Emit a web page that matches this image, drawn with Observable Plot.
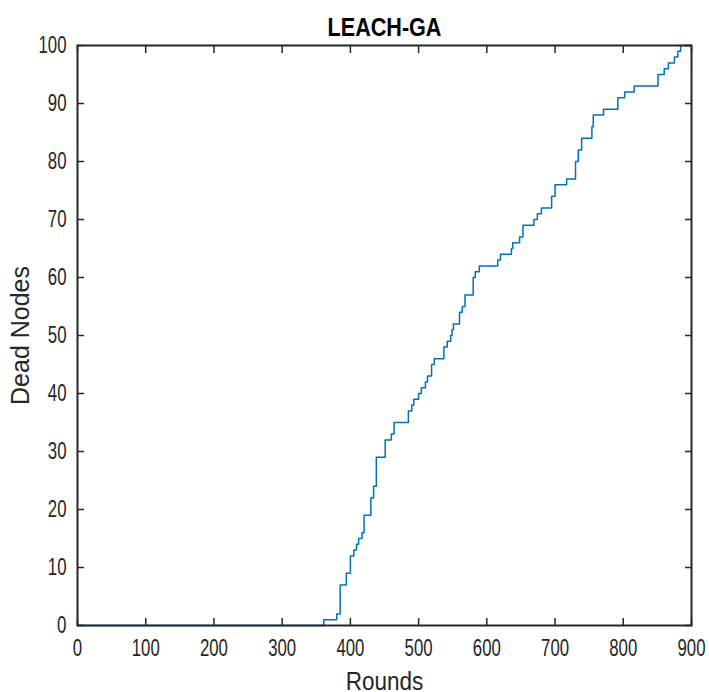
<!DOCTYPE html>
<html>
<head>
<meta charset="utf-8">
<script src="https://cdn.jsdelivr.net/npm/d3@7"></script>
<script src="https://cdn.jsdelivr.net/npm/@observablehq/plot@0.6"></script>
<style>
  html, body { margin: 0; padding: 0; background: #fff; }
  #chart svg { display: block; }
</style>
</head>
<body>
<div id="chart"></div>
<script>
// Cumulative dead nodes per round for LEACH-GA (value holds from that round onward)
const rounds = [0, 361, 380, 385, 394, 400, 405, 409, 412, 417, 420, 430, 434, 438, 451, 460, 464, 485, 490, 493, 500, 504, 510, 513, 519, 523, 537, 542, 547, 549, 551, 560, 564, 568, 580, 583, 589, 616, 620, 636, 638, 648, 653, 669, 674, 680, 695, 700, 717, 730, 734, 739, 754, 756, 771, 792, 802, 816, 851, 860, 866, 875, 880, 884, 900];
const deadNodes = [0, 1, 2, 7, 9, 12, 13, 14, 15, 16, 19, 22, 24, 29, 32, 33, 35, 37, 38, 39, 40, 41, 42, 43, 45, 46, 48, 49, 50, 51, 52, 54, 55, 57, 60, 61, 62, 63, 64, 65, 66, 67, 69, 70, 71, 72, 74, 76, 77, 80, 82, 84, 86, 88, 89, 91, 92, 93, 95, 96, 97, 98, 99, 100, 100];

const xTicks = [0, 100, 200, 300, 400, 500, 600, 700, 800, 900];
const yTicks = [0, 10, 20, 30, 40, 50, 60, 70, 80, 90, 100];

const chartTitle = "LEACH-GA";
const xLabel = "Rounds";
const yLabel = "Dead Nodes";

const data = rounds.map((r, i) => ({round: r, dead: deadNodes[i]}));

const sans = "'Liberation Sans', Arial, Helvetica, sans-serif";
const ink = "#262626";

const chart = Plot.plot({
  width: 709,
  height: 692,
  marginLeft: 77,
  marginRight: 18,
  marginTop: 45,
  marginBottom: 67,
  style: {fontFamily: sans, fontSize: "24px", color: ink, background: "#fff"},
  x: {domain: [0, 900], ticks: xTicks},
  y: {domain: [0, 100], ticks: yTicks},
  marks: [
    Plot.lineY(data, {x: "round", y: "dead", curve: "step-after", stroke: "#0072BD", strokeWidth: 1.5}),
    // inward ticks on all four sides of the box
    Plot.axisX({anchor: "bottom", ticks: xTicks, tickSize: -7, tickPadding: 20, label: null, tickFormat: d => d, fontSize: 24, stroke: ink, strokeWidth: 1.5}),
    Plot.axisX({anchor: "top", ticks: xTicks, tickSize: -7, tickFormat: () => "", label: null, stroke: ink, strokeWidth: 1.5}),
    Plot.axisY({anchor: "left", ticks: yTicks, tickSize: -7, tickPadding: 18, label: null, tickFormat: d => d, fontSize: 24, stroke: ink, strokeWidth: 1.5}),
    Plot.axisY({anchor: "right", ticks: yTicks, tickSize: -7, tickFormat: () => "", label: null, stroke: ink, strokeWidth: 1.5}),
    Plot.frame({stroke: ink, strokeWidth: 2}),
    Plot.text([chartTitle], {frameAnchor: "top", dy: -18, lineAnchor: "middle", fontWeight: "bold", fontSize: 26, fill: "#000"}),
    Plot.text([xLabel], {frameAnchor: "bottom", dy: 56, lineAnchor: "middle", fontSize: 25, fill: ink}),
    Plot.text([yLabel], {frameAnchor: "left", dx: -57, rotate: -90, textAnchor: "middle", lineAnchor: "middle", fontSize: 25, fill: ink})
  ]
});

document.getElementById("chart").append(chart);

// Narrow the horizontal text to the condensed look of the figure's typeface
function squeeze(selection, factor) {
  selection.each(function () {
    const w = this.getComputedTextLength();
    if (w > 0) {
      this.setAttribute("textLength", (w * factor).toFixed(1));
      this.setAttribute("lengthAdjust", "spacingAndGlyphs");
    }
  });
}
const svg = d3.select(chart);
const byText = s => svg.selectAll("text").filter(function () { return this.textContent === s; });
squeeze(svg.selectAll('g[aria-label$="tick label"] text'), 0.70);
squeeze(byText(chartTitle), 0.83);
squeeze(byText(xLabel), 0.9);
</script>
</body>
</html>
